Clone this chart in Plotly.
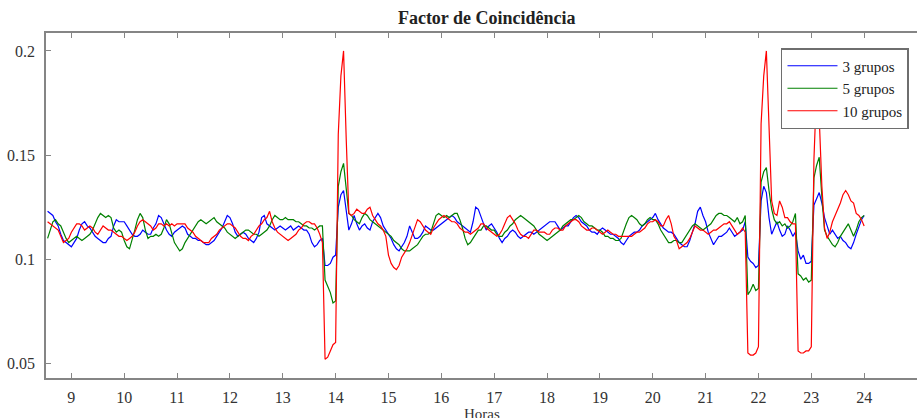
import plotly.graph_objects as go

# time grid (hours), 3-minute sampling
hours = [round(8.55 + 0.05 * i, 2) for i in range(310)]
tick_hours = list(range(9, 25))
y_ticks = [0.05, 0.1, 0.15, 0.2]
y_ticktext = ["0.05", "0.1", "0.15", "0.2"]
series_names = ["3 grupos", "5 grupos", "10 grupos"]

grupos_3 = [
    0.123, 0.122, 0.121, 0.118, 0.116, 0.112, 0.109, 0.108, 0.107,
    0.106, 0.108, 0.110, 0.114, 0.117, 0.118, 0.116, 0.115, 0.113, 0.111, 0.110, 0.109, 0.108, 0.108, 0.110, 0.111, 0.116, 0.119, 0.118, 0.118,
    0.118, 0.116, 0.114, 0.112, 0.111, 0.111, 0.112, 0.114, 0.113, 0.112, 0.112, 0.115, 0.117, 0.121, 0.120, 0.117, 0.114, 0.112, 0.111, 0.113,
    0.114, 0.115, 0.116, 0.115, 0.112, 0.111, 0.110, 0.110, 0.109, 0.109, 0.108, 0.107, 0.107, 0.108, 0.109, 0.111, 0.113, 0.115, 0.118, 0.121,
    0.120, 0.117, 0.113, 0.111, 0.112, 0.113, 0.112, 0.110, 0.109, 0.108, 0.110, 0.113, 0.120, 0.121, 0.117, 0.116, 0.115, 0.114, 0.115, 0.116,
    0.115, 0.114, 0.115, 0.116, 0.114, 0.115, 0.116, 0.115, 0.114, 0.114, 0.112, 0.108, 0.106, 0.107, 0.109, 0.110, 0.097, 0.097, 0.098, 0.101,
    0.102, 0.125, 0.131, 0.133, 0.124, 0.114, 0.117, 0.121, 0.117, 0.114, 0.116, 0.117, 0.115, 0.114, 0.118, 0.120, 0.122, 0.120, 0.116, 0.114,
    0.112, 0.110, 0.107, 0.105, 0.104, 0.106, 0.108, 0.111, 0.116, 0.113, 0.110, 0.110, 0.111, 0.113, 0.116, 0.115, 0.114, 0.114, 0.115, 0.116,
    0.117, 0.118, 0.119, 0.120, 0.121, 0.120, 0.118, 0.117, 0.116, 0.115, 0.114, 0.113, 0.118, 0.125, 0.124, 0.120, 0.117, 0.114, 0.116, 0.117,
    0.115, 0.113, 0.110, 0.108, 0.110, 0.111, 0.113, 0.114, 0.113, 0.111, 0.110, 0.111, 0.112, 0.113, 0.113, 0.112, 0.113, 0.114, 0.115, 0.116,
    0.117, 0.118, 0.118, 0.118, 0.116, 0.114, 0.115, 0.116, 0.116, 0.118, 0.120, 0.121, 0.120, 0.118, 0.117, 0.116, 0.114, 0.113, 0.113, 0.112,
    0.114, 0.115, 0.114, 0.113, 0.112, 0.112, 0.111, 0.110, 0.108, 0.107, 0.109, 0.111, 0.112, 0.113, 0.113, 0.114, 0.116, 0.117, 0.118, 0.119,
    0.120, 0.122, 0.119, 0.117, 0.115, 0.114, 0.113, 0.113, 0.112, 0.110, 0.108, 0.107, 0.106, 0.106, 0.109, 0.113, 0.117, 0.123, 0.125, 0.121,
    0.118, 0.113, 0.110, 0.107, 0.109, 0.111, 0.111, 0.112, 0.113, 0.115, 0.113, 0.111, 0.112, 0.113, 0.114, 0.118, 0.101, 0.099, 0.098, 0.096,
    0.097, 0.128, 0.135, 0.132, 0.120, 0.112, 0.115, 0.118, 0.114, 0.111, 0.112, 0.116, 0.114, 0.111, 0.113, 0.104, 0.100, 0.102, 0.098, 0.098,
    0.099, 0.126, 0.129, 0.132, 0.127, 0.120, 0.116, 0.112, 0.114, 0.112, 0.110, 0.111, 0.109, 0.108, 0.106, 0.105, 0.108, 0.112, 0.116, 0.119,
    0.121,
]

grupos_5 = [
    0.110, 0.114, 0.118, 0.119, 0.117, 0.116, 0.113, 0.110, 0.108,
    0.109, 0.110, 0.111, 0.110, 0.109, 0.110, 0.111, 0.112, 0.114, 0.117, 0.120, 0.122, 0.121, 0.120, 0.121, 0.120, 0.115, 0.113, 0.114, 0.113,
    0.109, 0.106, 0.105, 0.109, 0.114, 0.119, 0.122, 0.120, 0.114, 0.110, 0.111, 0.111, 0.112, 0.111, 0.112, 0.115, 0.119, 0.117, 0.113, 0.108,
    0.106, 0.104, 0.105, 0.108, 0.110, 0.112, 0.114, 0.116, 0.118, 0.119, 0.118, 0.117, 0.118, 0.119, 0.120, 0.118, 0.117, 0.116, 0.115, 0.113,
    0.112, 0.111, 0.110, 0.111, 0.112, 0.113, 0.114, 0.114, 0.113, 0.112, 0.112, 0.111, 0.112, 0.113, 0.114, 0.116, 0.119, 0.121, 0.120, 0.119,
    0.119, 0.120, 0.119, 0.119, 0.119, 0.118, 0.118, 0.117, 0.116, 0.116, 0.115, 0.115, 0.114, 0.115, 0.116, 0.116, 0.090, 0.087, 0.084, 0.079,
    0.080, 0.135, 0.142, 0.146, 0.133, 0.122, 0.121, 0.119, 0.118, 0.117, 0.120, 0.122, 0.121, 0.119, 0.118, 0.117, 0.116, 0.115, 0.114, 0.113,
    0.112, 0.111, 0.109, 0.108, 0.107, 0.105, 0.104, 0.104, 0.104, 0.105, 0.106, 0.107, 0.109, 0.111, 0.112, 0.112, 0.113, 0.117, 0.121, 0.122,
    0.121, 0.120, 0.121, 0.120, 0.121, 0.122, 0.122, 0.119, 0.115, 0.110, 0.107, 0.108, 0.110, 0.112, 0.114, 0.114, 0.116, 0.116, 0.115, 0.114,
    0.114, 0.112, 0.111, 0.111, 0.113, 0.114, 0.116, 0.117, 0.119, 0.120, 0.121, 0.120, 0.119, 0.118, 0.117, 0.116, 0.114, 0.112, 0.111, 0.110,
    0.109, 0.110, 0.111, 0.112, 0.113, 0.114, 0.116, 0.117, 0.118, 0.119, 0.119, 0.120, 0.121, 0.120, 0.118, 0.117, 0.116, 0.116, 0.115, 0.114,
    0.114, 0.113, 0.111, 0.111, 0.110, 0.110, 0.109, 0.109, 0.110, 0.114, 0.117, 0.120, 0.121, 0.120, 0.119, 0.117, 0.116, 0.117, 0.119, 0.120,
    0.119, 0.119, 0.117, 0.114, 0.112, 0.110, 0.108, 0.108, 0.109, 0.109, 0.108, 0.108, 0.110, 0.112, 0.114, 0.116, 0.117, 0.116, 0.115, 0.114,
    0.115, 0.116, 0.117, 0.119, 0.121, 0.122, 0.122, 0.121, 0.121, 0.120, 0.119, 0.118, 0.120, 0.117, 0.118, 0.121, 0.083, 0.085, 0.088, 0.085,
    0.086, 0.137, 0.142, 0.144, 0.133, 0.124, 0.119, 0.117, 0.118, 0.116, 0.117, 0.115, 0.116, 0.118, 0.122, 0.093, 0.092, 0.090, 0.091, 0.089,
    0.090, 0.139, 0.145, 0.149, 0.130, 0.114, 0.111, 0.109, 0.107, 0.106, 0.108, 0.111, 0.113, 0.115, 0.117, 0.114, 0.111, 0.114, 0.118, 0.120,
    0.121,
]

grupos_10 = [
    0.118, 0.117, 0.116, 0.115, 0.114, 0.111, 0.108, 0.109, 0.110,
    0.113, 0.115, 0.117, 0.117, 0.116, 0.114, 0.115, 0.116, 0.115, 0.113, 0.112, 0.114, 0.116, 0.115, 0.114, 0.114, 0.113, 0.112, 0.111, 0.111,
    0.110, 0.109, 0.110, 0.111, 0.113, 0.116, 0.118, 0.119, 0.118, 0.117, 0.116, 0.114, 0.115, 0.117, 0.117, 0.116, 0.117, 0.116, 0.117, 0.116,
    0.117, 0.117, 0.117, 0.117, 0.115, 0.114, 0.113, 0.111, 0.110, 0.109, 0.108, 0.108, 0.108, 0.110, 0.111, 0.112, 0.114, 0.115, 0.116, 0.117,
    0.117, 0.116, 0.115, 0.113, 0.111, 0.110, 0.110, 0.109, 0.111, 0.112, 0.114, 0.116, 0.117, 0.119, 0.120, 0.123, 0.118, 0.115, 0.113, 0.112,
    0.111, 0.110, 0.109, 0.110, 0.111, 0.112, 0.114, 0.115, 0.117, 0.118, 0.118, 0.117, 0.117, 0.115, 0.112, 0.108, 0.052, 0.053, 0.056, 0.059,
    0.060, 0.160, 0.188, 0.200, 0.158, 0.122, 0.121, 0.122, 0.124, 0.123, 0.122, 0.122, 0.124, 0.125, 0.121, 0.119, 0.117, 0.116, 0.114, 0.111,
    0.102, 0.098, 0.096, 0.095, 0.097, 0.101, 0.103, 0.105, 0.108, 0.112, 0.116, 0.119, 0.118, 0.116, 0.114, 0.113, 0.112, 0.115, 0.117, 0.119,
    0.120, 0.121, 0.120, 0.119, 0.118, 0.118, 0.117, 0.115, 0.114, 0.113, 0.113, 0.112, 0.113, 0.114, 0.115, 0.117, 0.117, 0.115, 0.114, 0.113,
    0.112, 0.111, 0.112, 0.114, 0.117, 0.120, 0.121, 0.119, 0.117, 0.114, 0.112, 0.111, 0.111, 0.110, 0.112, 0.114, 0.114, 0.113, 0.113, 0.113,
    0.112, 0.112, 0.114, 0.115, 0.115, 0.114, 0.114, 0.116, 0.117, 0.118, 0.119, 0.119, 0.118, 0.116, 0.115, 0.114, 0.114, 0.115, 0.115, 0.114,
    0.113, 0.112, 0.113, 0.114, 0.113, 0.112, 0.112, 0.111, 0.111, 0.111, 0.111, 0.111, 0.111, 0.112, 0.113, 0.113, 0.114, 0.115, 0.117, 0.118,
    0.118, 0.119, 0.118, 0.116, 0.116, 0.119, 0.121, 0.117, 0.111, 0.109, 0.105, 0.106, 0.107, 0.108, 0.110, 0.113, 0.116, 0.115, 0.114, 0.114,
    0.113, 0.112, 0.113, 0.114, 0.114, 0.115, 0.116, 0.117, 0.117, 0.118, 0.116, 0.114, 0.112, 0.113, 0.115, 0.113, 0.055, 0.054, 0.054, 0.055,
    0.058, 0.165, 0.188, 0.200, 0.160, 0.128, 0.122, 0.121, 0.128, 0.125, 0.120, 0.120, 0.118, 0.117, 0.117, 0.056, 0.055, 0.055, 0.056, 0.056,
    0.058, 0.148, 0.182, 0.168, 0.135, 0.115, 0.110, 0.113, 0.118, 0.121, 0.124, 0.127, 0.131, 0.133, 0.131, 0.128, 0.127, 0.122, 0.121, 0.119,
    0.116,
]

colors = ["#0000ff", "#008000", "#ff0000"]
SERIF = "Liberation Serif, Times New Roman, serif"

fig = go.Figure()
for name, vals, col in zip(series_names, [grupos_3, grupos_5, grupos_10], colors):
    fig.add_trace(go.Scatter(x=hours, y=vals, mode="lines", name=name,
                             line=dict(color=col, width=1.2)))

axis_common = dict(
    showline=True, linecolor="#858585", linewidth=1.5,
    ticks="inside", ticklen=5, tickcolor="#858585", tickwidth=1,
    showgrid=False, zeroline=False, automargin=False,
    tickfont=dict(family=SERIF, size=16, color="#333333"),
)

fig.update_layout(
    width=917, height=418,
    margin=dict(l=46, r=0, t=33, b=40),
    paper_bgcolor="white", plot_bgcolor="white",
    title=dict(text="<b>Factor de Coincidência</b>", x=0.506, xref="paper",
               xanchor="center",
               y=1 - 18 / 418, yref="container", yanchor="middle",
               font=dict(family=SERIF, size=18, color="#222222")),
    xaxis=dict(range=[8.52, 25.0], tickvals=tick_hours, mirror="ticks",
               ticklabelstandoff=4, **axis_common),
    yaxis=dict(range=[0.043, 0.2086], tickvals=y_ticks, ticktext=y_ticktext,
               ticklabelstandoff=6, **axis_common),
    legend=dict(x=0.9908, y=0.9565, xanchor="right", yanchor="top",
                bgcolor="white", bordercolor="#6e6e6e", borderwidth=1.5,
                font=dict(family=SERIF, size=15, color="#222222"),
                itemwidth=50, tracegroupgap=0),
    annotations=[dict(text="Horas", xref="paper", yref="paper", x=0.5, y=-0.074,
                      xanchor="center", yanchor="top", showarrow=False,
                      font=dict(family=SERIF, size=15, color="#333333"))],
    showlegend=True,
)

fig.write_html("out.html")
